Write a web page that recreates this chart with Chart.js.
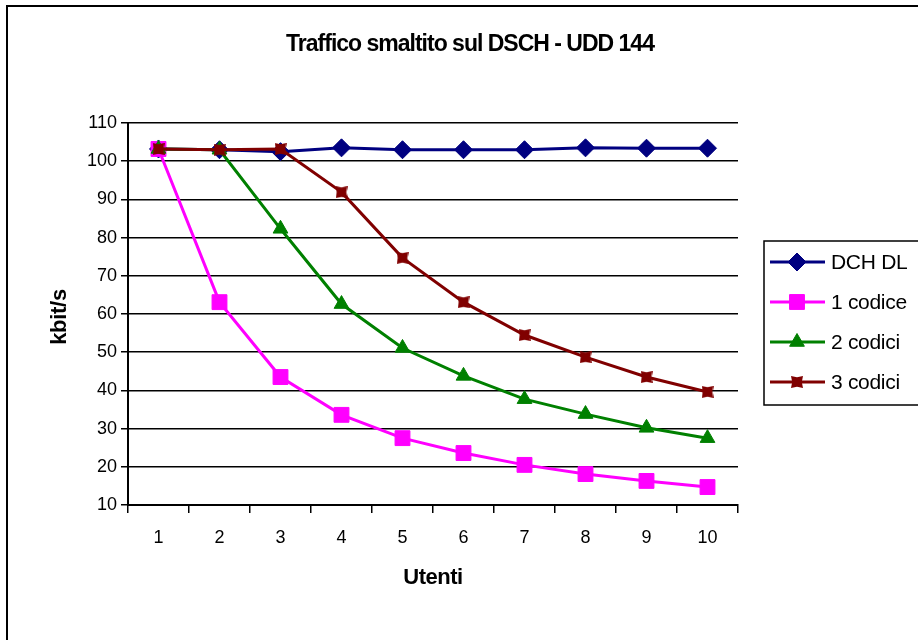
<!DOCTYPE html>
<html>
<head>
<meta charset="utf-8">
<script src="https://cdn.jsdelivr.net/npm/chart.js@4/dist/chart.umd.min.js"></script>
<style>
	html, body { margin: 0; padding: 0; background: #fff; }
	#wrap { width: 918px; height: 640px; }
</style>
</head>
<body>
<div id="wrap"><canvas id="trafficChart" width="918" height="640"></canvas></div>
<script>
// data
const utenti = ["1", "2", "3", "4", "5", "6", "7", "8", "9", "10"];
const dchDL = [103.2, 103, 102.5, 103.5, 103, 103, 103, 103.5, 103.4, 103.4];
const codice1 = [103.2, 63.1, 43.5, 33.6, 27.5, 23.6, 20.5, 18.1, 16.3, 14.7];
const codici2 = [103.2, 103, 82.3, 62.6, 51.1, 43.8, 37.7, 33.8, 30.2, 27.5];
const codici3 = [103.2, 103, 103.2, 91.9, 74.7, 63.1, 54.5, 48.7, 43.5, 39.6];

const FONT = "'Liberation Sans', Arial, sans-serif";

// the "3 codici" marker: a square with slightly notched sides, like Excel's
function starSquare(w) {
	const c = document.createElement('canvas');
	c.width = w; c.height = w;
	const g = c.getContext('2d');
	const m = w / 2, n = 1.2;
	g.fillStyle = '#800000';
	g.beginPath();
	g.moveTo(0, 0); g.lineTo(m, n); g.lineTo(w, 0); g.lineTo(w - n, m);
	g.lineTo(w, w); g.lineTo(m, w - n); g.lineTo(0, w); g.lineTo(n, m);
	g.closePath();
	g.fill();
	return c;
}
const star = starSquare(12);

function series(label, data, color, style, radius, order) {
	return {
		label: label,
		data: data,
		borderColor: color,
		backgroundColor: color,
		borderWidth: 3,
		tension: 0,
		pointStyle: style,
		pointRadius: radius,
		pointHoverRadius: radius,
		pointBorderWidth: 1,
		order: order
	};
}

function text(ctx, str, x, y, size, bold, spacing, rot) {
	ctx.save();
	ctx.translate(x, y);
	if (rot) ctx.rotate(rot);
	ctx.font = (bold ? 'bold ' : '') + size + 'px ' + FONT;
	ctx.letterSpacing = spacing + 'px';
	ctx.fillStyle = '#000';
	ctx.textAlign = 'center';
	ctx.textBaseline = 'middle';
	ctx.fillText(str, 0, 0);
	ctx.restore();
}

// frame (only left and top edges visible, like the cropped original) + titles
const framePlugin = {
	id: 'frame',
	beforeDraw(chart) {
		const ctx = chart.ctx;
		ctx.save();
		ctx.fillStyle = '#fff';
		ctx.fillRect(0, 0, chart.width, chart.height);
		ctx.strokeStyle = '#000';
		ctx.lineWidth = 2;
		ctx.strokeRect(7, 6, 1000, 1000);
		ctx.restore();
	},
	afterDraw(chart) {
		const ctx = chart.ctx;
		const a = chart.chartArea;
		text(ctx, 'Traffico smaltito sul DSCH - UDD 144', 470, 45, 23, true, -1);
		text(ctx, 'Utenti', (a.left + a.right) / 2, 578, 22, true, -0.5);
		text(ctx, 'kbit/s', 60, 317, 22, true, -0.3, -Math.PI / 2);
	}
};

// Excel style legend: box with line + marker
const legendPlugin = {
	id: 'boxLegend',
	afterDraw(chart) {
		const ctx = chart.ctx;
		const x0 = 764, y0 = 241, y1 = 405;
		ctx.save();
		ctx.strokeStyle = '#000';
		ctx.lineWidth = 1.5;
		ctx.strokeRect(x0, y0, 300, y1 - y0);
		const rows = [262, 302, 342, 382];
		chart.data.datasets.forEach((ds, i) => {
			const y = rows[i];
			ctx.strokeStyle = ds.borderColor;
			ctx.lineWidth = 3;
			ctx.beginPath();
			ctx.moveTo(770, y);
			ctx.lineTo(825, y);
			ctx.stroke();
			ctx.fillStyle = ds.backgroundColor;
			ctx.lineWidth = 1;
			Chart.helpers.drawPoint(ctx, { pointStyle: ds.pointStyle, radius: ds.pointRadius, borderWidth: 1, rotation: 0 }, 797, y);
			ctx.fillStyle = '#000';
			ctx.font = '21px ' + FONT;
			ctx.letterSpacing = '-0.3px';
			ctx.textBaseline = 'middle';
			ctx.fillText(ds.label, 831, y + 1);
			ctx.letterSpacing = '0px';
		});
		ctx.restore();
	}
};

new Chart(document.getElementById('trafficChart'), {
	type: 'line',
	data: {
		labels: utenti,
		datasets: [
			series('DCH DL', dchDL, '#000080', 'rectRot', 9, 3),
			series('1 codice', codice1, '#FF00FF', 'rect', 10.5, 2),
			series('2 codici', codici2, '#008000', 'triangle', 8.5, 1),
			series('3 codici', codici3, '#800000', star, 6, 0)
		]
	},
	options: {
		responsive: false,
		animation: false,
		layout: { padding: { left: 8, right: 180, top: 123, bottom: 0 } },
		plugins: {
			legend: { display: false },
			tooltip: { enabled: false },
			title: { display: false }
		},
		scales: {
			x: {
				offset: true,
				afterFit(scale) { scale.height = 135; },
				grid: {
					offset: true,
					drawOnChartArea: false,
					drawTicks: true,
					tickLength: 8,
					color: '#000',
					lineWidth: 1.5
				},
				border: { color: '#000', width: 2 },
				ticks: {
					color: '#000',
					font: { family: FONT, size: 18 },
					padding: 14
				}
			},
			y: {
				min: 10,
				max: 110,
				afterFit(scale) { scale.width = 120; },
				ticks: {
					stepSize: 10,
					color: '#000',
					font: { family: FONT, size: 18 },
					padding: 4
				},
				grid: {
					color: '#000',
					lineWidth: 1.5,
					tickLength: 7
				},
				border: { color: '#000', width: 2 }
			}
		}
	},
	plugins: [framePlugin, legendPlugin]
});
</script>
</body>
</html>
